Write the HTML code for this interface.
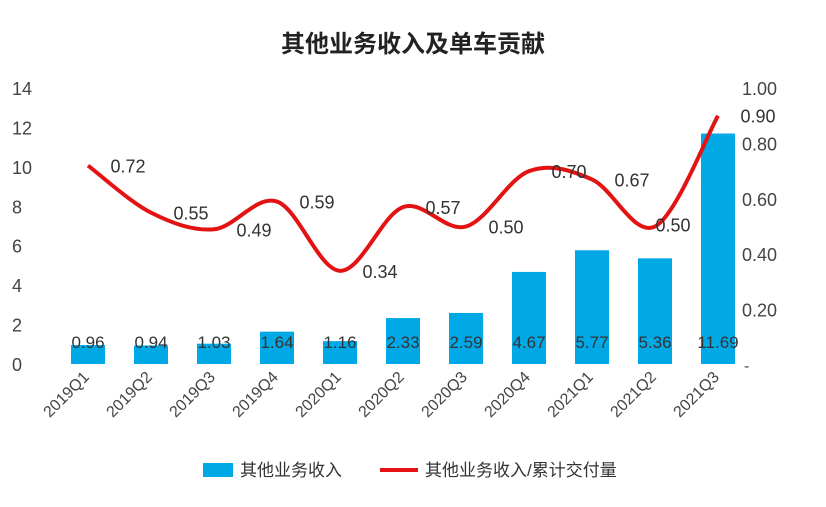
<!DOCTYPE html>
<html><head><meta charset="utf-8"><style>
body{margin:0;background:#fff;}
svg{font-family:"Liberation Sans","Noto Sans CJK SC",sans-serif;}
</style></head><body>
<svg id="c" width="826" height="502"></svg>
<script>
const categories=["2019Q1","2019Q2","2019Q3","2019Q4","2020Q1","2020Q2","2020Q3","2020Q4","2021Q1","2021Q2","2021Q3"];
const revenue=[0.96,0.94,1.03,1.64,1.16,2.33,2.59,4.67,5.77,5.36,11.69];
const perCar=[0.72,0.55,0.49,0.59,0.34,0.57,0.50,0.70,0.67,0.50,0.90];
const leftTicks=[0,2,4,6,8,10,12,14];
const rightTicks=[0.2,0.4,0.6,0.8,1.0];
const NS="http://www.w3.org/2000/svg";
const svg=document.getElementById('c');
function el(t,a,p){const e=document.createElementNS(NS,t);for(const k in a)e.setAttribute(k,a[k]);(p||svg).appendChild(e);return e;}
const y0=364,yTop=88;
const yL=v=>y0-v/14*(y0-yTop);
const yR=v=>365-v*(365-88);
const xC=i=>88+i*63;
let t=el('text',{x:413,y:52,'text-anchor':'middle','font-size':24,fill:'#222','font-weight':'bold'});t.textContent='其他业务收入及单车贡献';

leftTicks.forEach(v=>{const e=el('text',{x:12,y:yL(v)+7,'font-size':18,fill:'#444'});e.textContent=v;
});
rightTicks.forEach(v=>{const e=el('text',{x:742,y:yR(v)+7,'font-size':18,fill:'#444'});e.textContent=v.toFixed(2);
});
t=el('text',{x:744,y:371,'font-size':16,fill:'#444'});t.textContent='-';
categories.forEach((c,i)=>{
 const b=el('rect',{x:xC(i)-17,y:yL(revenue[i]),width:34,height:y0-yL(revenue[i]),fill:'#00a8e6'});
 
 const l=el('text',{x:xC(i),y:348,'text-anchor':'middle','font-size':17,fill:'#333'});l.textContent=revenue[i].toFixed(2);
 
 const x=el('text',{x:xC(i)+2,y:378,'text-anchor':'end','font-size':16,fill:'#444',transform:`rotate(-45 ${xC(i)+2} 378)`});x.textContent=c;
 
});
const pts=perCar.map((v,i)=>[xC(i),yR(v)]);
let d=`M${pts[0][0]},${pts[0][1]}`;
for(let i=0;i<pts.length-1;i++){const p0=pts[i-1]||pts[i],p1=pts[i],p2=pts[i+1],p3=pts[i+2]||p2;
 d+=` C${p1[0]+(p2[0]-p0[0])/6},${p1[1]+(p2[1]-p0[1])/6} ${p2[0]-(p3[0]-p1[0])/6},${p2[1]-(p3[1]-p1[1])/6} ${p2[0]},${p2[1]}`;}
const ln=el('path',{d:d,fill:'none',stroke:'#e31313','stroke-width':4});

perCar.forEach((v,i)=>{const dx=(i==9)?18:40;const dy=(i==9)?-2:0;
 const e=el('text',{x:xC(i)+dx,y:yR(v)+dy+7,'text-anchor':'middle','font-size':18,fill:'#333'});
 e.textContent=v.toFixed(2);});
let lg=el('rect',{x:203,y:463,width:30,height:14,fill:'#00a8e6'});
t=el('text',{x:240,y:476,'font-size':17,fill:'#333'});t.textContent='其他业务收入';
lg=el('line',{x1:380,y1:470,x2:418,y2:470,stroke:'#e31313','stroke-width':4});
t=el('text',{x:425,y:476,'font-size':17,fill:'#333'});t.textContent='其他业务收入/累计交付量';
</script>
</body></html>
